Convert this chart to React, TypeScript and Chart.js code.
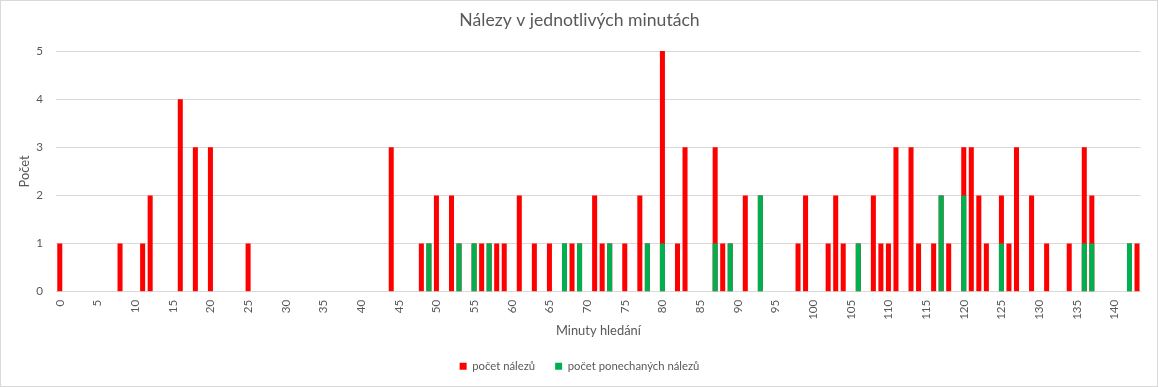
import React, { useEffect, useRef } from "react";
import { Chart, registerables } from "chart.js";

Chart.register(...registerables);

const chartTitle = "Nálezy v jednotlivých minutách";
const xTitle = "Minuty hledání";
const yTitle = "Počet";
const seriesNames = ["počet nálezů", "počet ponechaných nálezů"];
const seriesColors = ["#FF0000", "#00B050"];

// minutes 0..143
const minutes = Array.from({ length: 144 }, (_, i) => String(i));

const totalFinds = [
  1, 0, 0, 0, 0, 0, 0, 0, 1, 0,
  0, 1, 2, 0, 0, 0, 4, 0, 3, 0,
  3, 0, 0, 0, 0, 1, 0, 0, 0, 0,
  0, 0, 0, 0, 0, 0, 0, 0, 0, 0,
  0, 0, 0, 0, 3, 0, 0, 0, 1, 1,
  2, 0, 2, 1, 0, 1, 1, 1, 1, 1,
  0, 2, 0, 1, 0, 1, 0, 1, 1, 1,
  0, 2, 1, 1, 0, 1, 0, 2, 1, 0,
  5, 0, 1, 3, 0, 0, 0, 3, 1, 1,
  0, 2, 0, 2, 0, 0, 0, 0, 1, 2,
  0, 0, 1, 2, 1, 0, 1, 0, 2, 1,
  1, 3, 0, 3, 1, 0, 1, 2, 1, 0,
  3, 3, 2, 1, 0, 2, 1, 3, 0, 2,
  0, 1, 0, 0, 1, 0, 3, 2, 0, 0,
  0, 0, 1, 1,
];

const keptFinds = [
  0, 0, 0, 0, 0, 0, 0, 0, 0, 0,
  0, 0, 0, 0, 0, 0, 0, 0, 0, 0,
  0, 0, 0, 0, 0, 0, 0, 0, 0, 0,
  0, 0, 0, 0, 0, 0, 0, 0, 0, 0,
  0, 0, 0, 0, 0, 0, 0, 0, 0, 1,
  0, 0, 0, 1, 0, 1, 0, 1, 0, 0,
  0, 0, 0, 0, 0, 0, 0, 1, 0, 1,
  0, 0, 0, 1, 0, 0, 0, 0, 1, 0,
  1, 0, 0, 0, 0, 0, 0, 1, 0, 1,
  0, 0, 0, 2, 0, 0, 0, 0, 0, 0,
  0, 0, 0, 0, 0, 0, 1, 0, 0, 0,
  0, 0, 0, 0, 0, 0, 0, 2, 0, 0,
  2, 0, 0, 0, 0, 1, 0, 0, 0, 0,
  0, 0, 0, 0, 0, 0, 1, 1, 0, 0,
  0, 0, 1, 0,
];

const FONT = "Lato, 'Open Sans', sans-serif";
const TEXT = "#595959";
const GRID = "#D9D9D9";

const frame = {
  id: "frame",
  beforeDraw(chart: any) {
    const { ctx, width, height } = chart;
    ctx.save();
    ctx.fillStyle = "#FFFFFF";
    ctx.fillRect(0, 0, width, height);
    ctx.strokeStyle = GRID;
    ctx.lineWidth = 1;
    ctx.strokeRect(0.5, 0.5, width - 2, height - 1);
    ctx.restore();
  },
};

export default function App() {
  const ref = useRef<HTMLCanvasElement | null>(null);

  useEffect(() => {
    document.body.style.margin = "0";
    const canvas = ref.current;
    if (!canvas) return;
    const chart = new Chart(canvas, {
      type: "bar",
      data: {
        labels: minutes,
        datasets: [
          {
            label: seriesNames[0],
            data: totalFinds,
            backgroundColor: seriesColors[0],
            borderWidth: 0,
            order: 1,
            barPercentage: 0.667,
            categoryPercentage: 1,
          },
          {
            label: seriesNames[1],
            data: keptFinds,
            backgroundColor: seriesColors[1],
            borderWidth: 0,
            order: 0,
            barPercentage: 0.667,
            categoryPercentage: 1,
          },
        ],
      },
      options: {
        animation: false,
        responsive: false,
        maintainAspectRatio: false,
        layout: { padding: { left: 0, right: 0, top: 0, bottom: 5 } },
        plugins: {
          tooltip: { enabled: false },
          title: {
            display: true,
            text: chartTitle,
            color: TEXT,
            font: { family: FONT, size: 17.6, weight: "normal" },
            padding: { top: 9.5, bottom: 20.4 },
          },
          legend: {
            position: "bottom",
            labels: {
              color: TEXT,
              font: { family: FONT, size: 11.3 },
              boxWidth: 7,
              boxHeight: 7,
              padding: 20,
              sort: (a: any, b: any) => a.datasetIndex - b.datasetIndex,
            },
          },
        },
        scales: {
          x: {
            stacked: true,
            grid: { display: false, drawTicks: false },
            border: { display: true, color: GRID, width: 1 },
            ticks: {
              autoSkip: false,
              maxRotation: 90,
              minRotation: 90,
              padding: 8,
              color: TEXT,
              font: { family: FONT, size: 11.6 },
              callback: (_v: any, i: number) => (i % 5 === 0 ? minutes[i] : ""),
            },
            title: {
              display: true,
              text: xTitle,
              color: TEXT,
              font: { family: FONT, size: 12.9 },
              padding: { top: 0, bottom: 2 },
            },
            afterFit: (s: any) => {
              s.height = 49;
            },
          },
          y: {
            stacked: false,
            min: 0,
            max: 5,
            grid: { color: GRID, drawTicks: false },
            border: { display: false },
            ticks: {
              stepSize: 1,
              padding: 13,
              color: TEXT,
              font: { family: FONT, size: 11.6 },
            },
            title: {
              display: true,
              text: yTitle,
              color: TEXT,
              font: { family: FONT, size: 12.9 },
              padding: { top: 17, bottom: 0 },
            },
            afterFit: (s: any) => {
              s.width = 56;
            },
          },
          spacer: {
            type: "linear",
            position: "right",
            display: true,
            grid: { display: false, drawTicks: false },
            border: { display: false },
            ticks: { display: false },
            title: { display: false },
            afterFit: (s: any) => {
              s.width = 15;
            },
          },
        },
      },
      plugins: [frame],
    });
    return () => chart.destroy();
  }, []);

  return (
    <div style={{ width: 1159, height: 387 }}>
      <canvas ref={ref} width={1159} height={387} style={{ display: "block" }} />
    </div>
  );
}
